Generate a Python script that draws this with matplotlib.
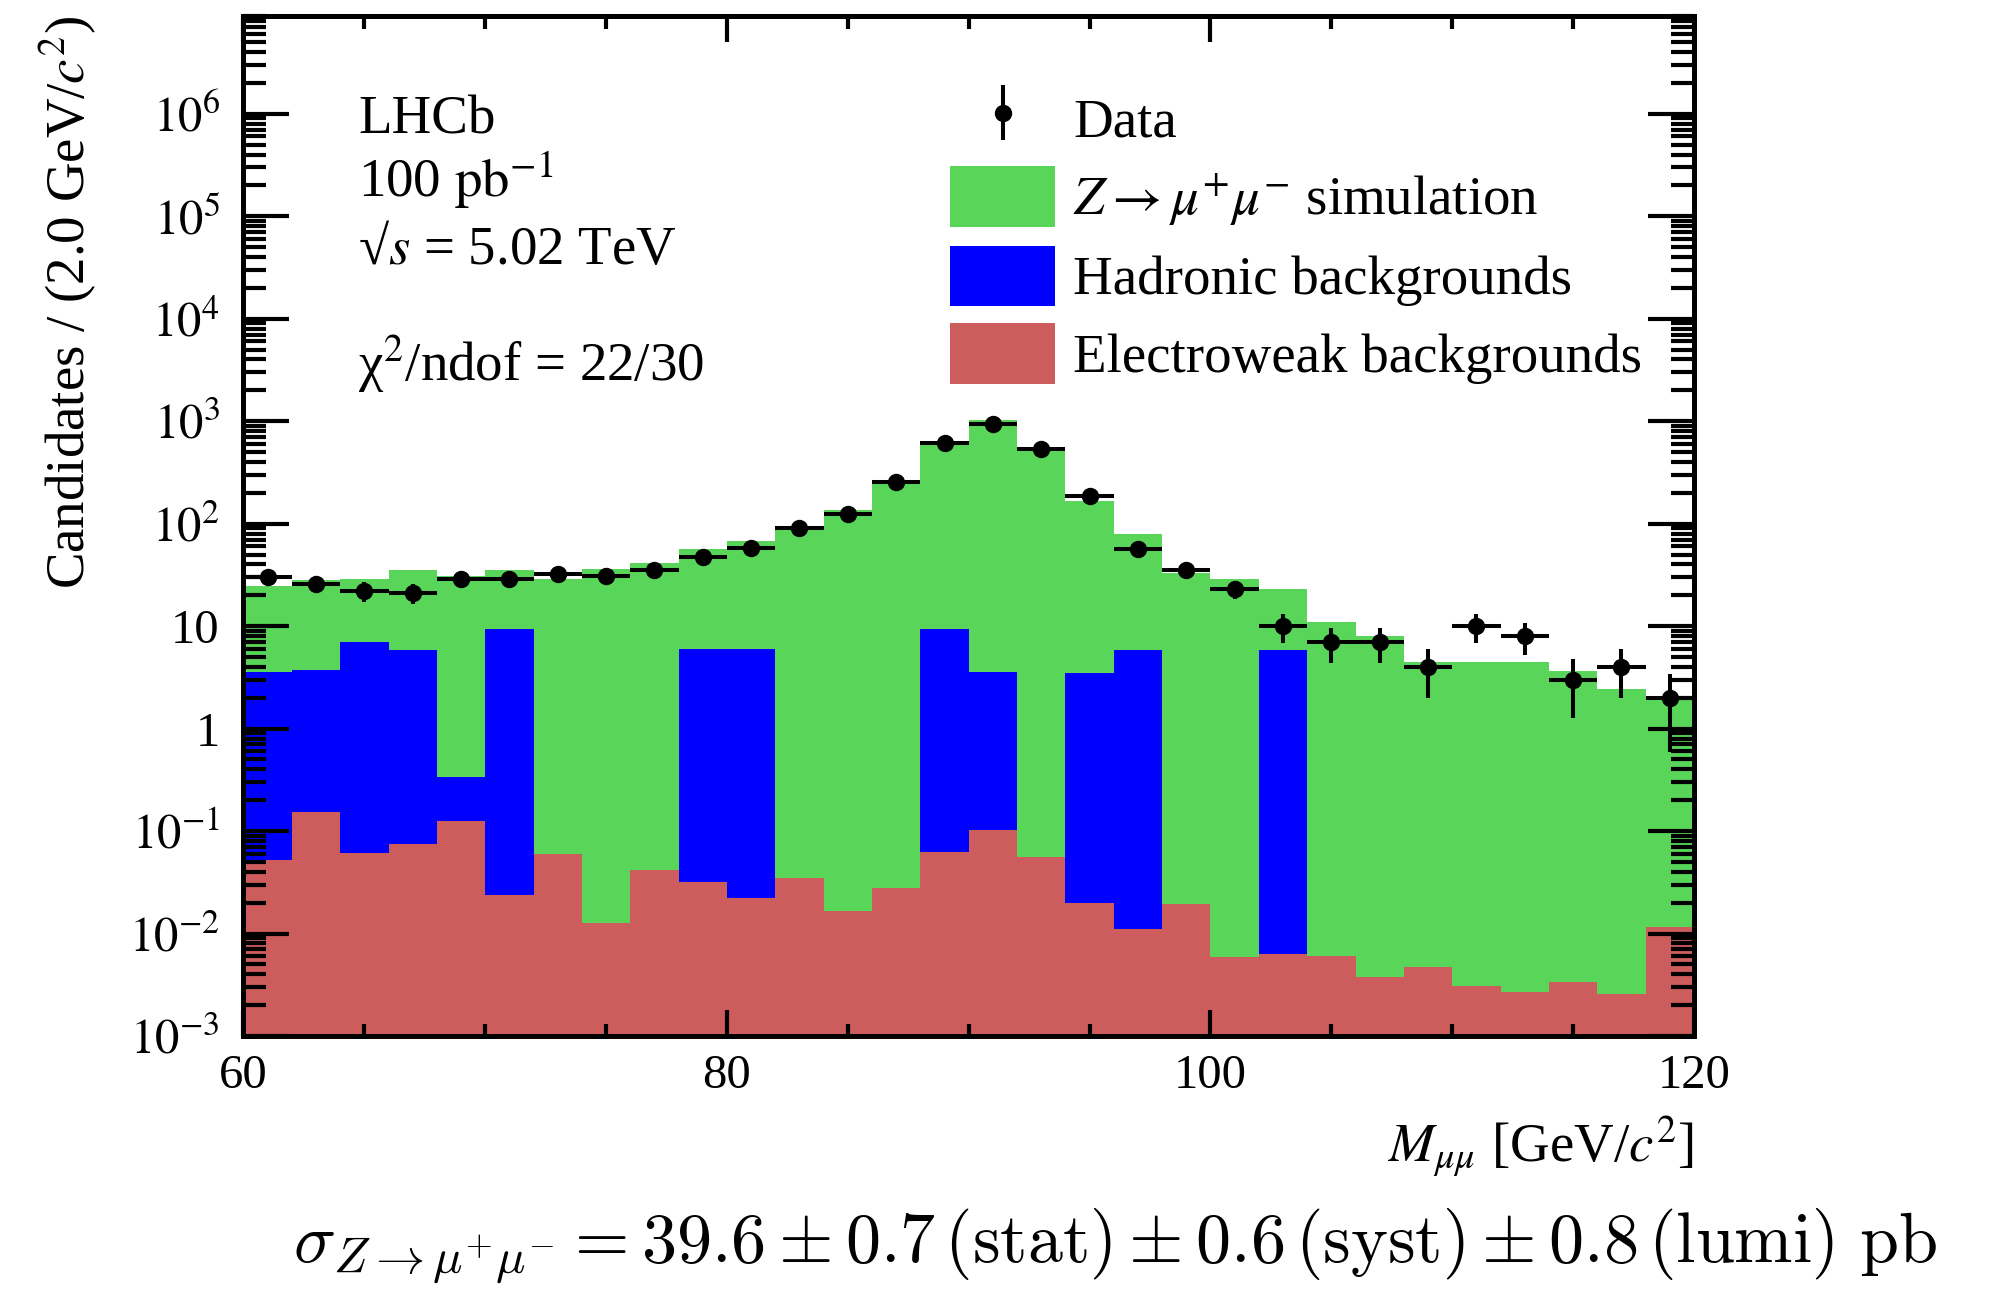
import numpy as np
import matplotlib
matplotlib.use('Agg')
import matplotlib.pyplot as plt
from matplotlib.ticker import LogLocator, FuncFormatter, MultipleLocator

plt.rcParams['font.family'] = ['Liberation Serif', 'DejaVu Serif']
plt.rcParams['mathtext.fontset'] = 'stix'

# 2 GeV bins between 60 and 120 GeV
edges = np.arange(60, 122, 2)

data = [30, 26, 22, 21, 29, 29, 32, 31, 35, 47, 58, 91, 123, 255, 619,
        942, 532, 186, 56, 35, 23, 10, 7, 7, 4, 10, 8, 3, 4, 2]

zsim = [21.3, 24.2, 21.7, 29.1, 30.2, 26.2, 28.5, 36.4, 41.6, 50.2, 61.2,
        92.7, 135, 249, 596, 1034, 541, 162.5, 73.9, 33.2, 28.6, 16.9,
        10.9, 8.05, 4.45, 4.45, 4.45, 3.63, 2.44, 1.90]

hadronic = [3.55, 3.55, 7.0, 5.8, 0.21, 9.4, 0, 0, 0, 5.9, 5.9, 0, 0, 0,
            9.3, 3.5, 0, 3.5, 5.9, 0, 0, 5.9, 0, 0, 0, 0, 0, 0, 0, 0]

electroweak = [0.052, 0.155, 0.061, 0.075, 0.126, 0.024, 0.060, 0.0127,
               0.042, 0.032, 0.022, 0.035, 0.0166, 0.028, 0.063, 0.102,
               0.056, 0.020, 0.011, 0.0195, 0.0059, 0.0063, 0.0060, 0.0038,
               0.0047, 0.0031, 0.0027, 0.0034, 0.0026, 0.0116]

green = '#59d559'
blue = '#0000ff'
red = '#cd5c5c'
fs = 39.5

fig = plt.figure(figsize=(19.99, 12.97), dpi=100)
ax = fig.add_axes([0.1218, 0.2012, 0.7256, 0.7865])

# stacked: electroweak at the bottom, then hadronic, then Z simulation
levels = np.cumsum([electroweak, hadronic, zsim], axis=0)
h_z = ax.stairs(levels[2], edges, fill=True, color=green, baseline=1e-5)
h_had = ax.stairs(levels[1], edges, fill=True, color=blue, baseline=1e-5)
h_ew = ax.stairs(levels[0], edges, fill=True, color=red, baseline=1e-5)

centers = 0.5 * (edges[:-1] + edges[1:])
halfw = 0.5 * np.diff(edges)
ax.errorbar(centers, data, xerr=halfw, yerr=np.sqrt(data), fmt='o',
            color='black', ms=11.5, elinewidth=2.9, capsize=0, zorder=5)

ax.set_yscale('log')
ax.set_xlim(60, 120)
ax.set_ylim(1e-3, 9e6)

ax.xaxis.set_major_locator(MultipleLocator(20))
ax.xaxis.set_minor_locator(MultipleLocator(5))
ax.yaxis.set_major_locator(LogLocator(base=10, numticks=20))
ax.yaxis.set_minor_locator(LogLocator(base=10, subs=np.arange(2, 10), numticks=20))


def ylab(v, pos):
    e = int(round(np.log10(v)))
    if e == 0:
        return '1'
    if e == 1:
        return '10'
    return '$10^{%d}$' % e


ax.yaxis.set_major_formatter(FuncFormatter(ylab))

ax.tick_params(which='both', direction='in', top=True, right=True,
               labelsize=35, width=3)
ax.tick_params(axis='x', which='major', length=19, pad=13)
ax.tick_params(axis='x', which='minor', length=9)
ax.tick_params(axis='y', which='major', length=33, pad=17)
ax.tick_params(axis='y', which='minor', length=16.5)
for s in ax.spines.values():
    s.set_linewidth(3.6)

ax.set_xlabel(r'$M_{\mu\mu}$ [GeV/$c^{2}$]', fontsize=fs, loc='right')
ax.xaxis.set_label_coords(1.0, -0.0765)
ax.set_ylabel('Candidates / (2.0 GeV/$c^{2}$)', fontsize=fs, loc='top')
ax.yaxis.set_label_coords(-0.0995, 1.0)

tx = 0.079
ax.text(tx, 0.885, 'LHCb', transform=ax.transAxes, fontsize=fs)
ax.text(tx, 0.823, r'100 $\mathrm{pb}^{\mathrm{-1}}$', transform=ax.transAxes, fontsize=fs)
ax.text(tx, 0.757, r'√$s$ = 5.02 TeV', transform=ax.transAxes, fontsize=fs)
ax.text(tx, 0.6416, r'χ$^{2}$/ndof = 22/30', transform=ax.transAxes, fontsize=fs)

data_proxy = ax.errorbar([], [], yerr=[], fmt='o', color='black', ms=11.5,
                         elinewidth=2.9, capsize=0)
ax.legend([data_proxy, h_z, h_had, h_ew],
          ['Data', r'$Z \rightarrow \mu^{+}\mu^{-}$ simulation',
           'Hadronic backgrounds', 'Electroweak backgrounds'],
          loc='upper left', bbox_to_anchor=(0.4874, 0.929), frameon=False,
          fontsize=fs, borderpad=0, borderaxespad=0, handlelength=1.91,
          handleheight=1.32, labelspacing=0.31, handletextpad=0.33)

fig.text(0.1466, 0.027,
         r'$\sigma_{Z\rightarrow\mu^{+}\mu^{-}} = 39.6 \pm 0.7\,(\mathrm{stat}) \pm 0.6\,(\mathrm{syst}) \pm 0.8\,(\mathrm{lumi})\ \mathrm{pb}$',
         fontsize=50.5, math_fontfamily='cm', va='baseline')

fig.savefig('out.png', dpi=100)
